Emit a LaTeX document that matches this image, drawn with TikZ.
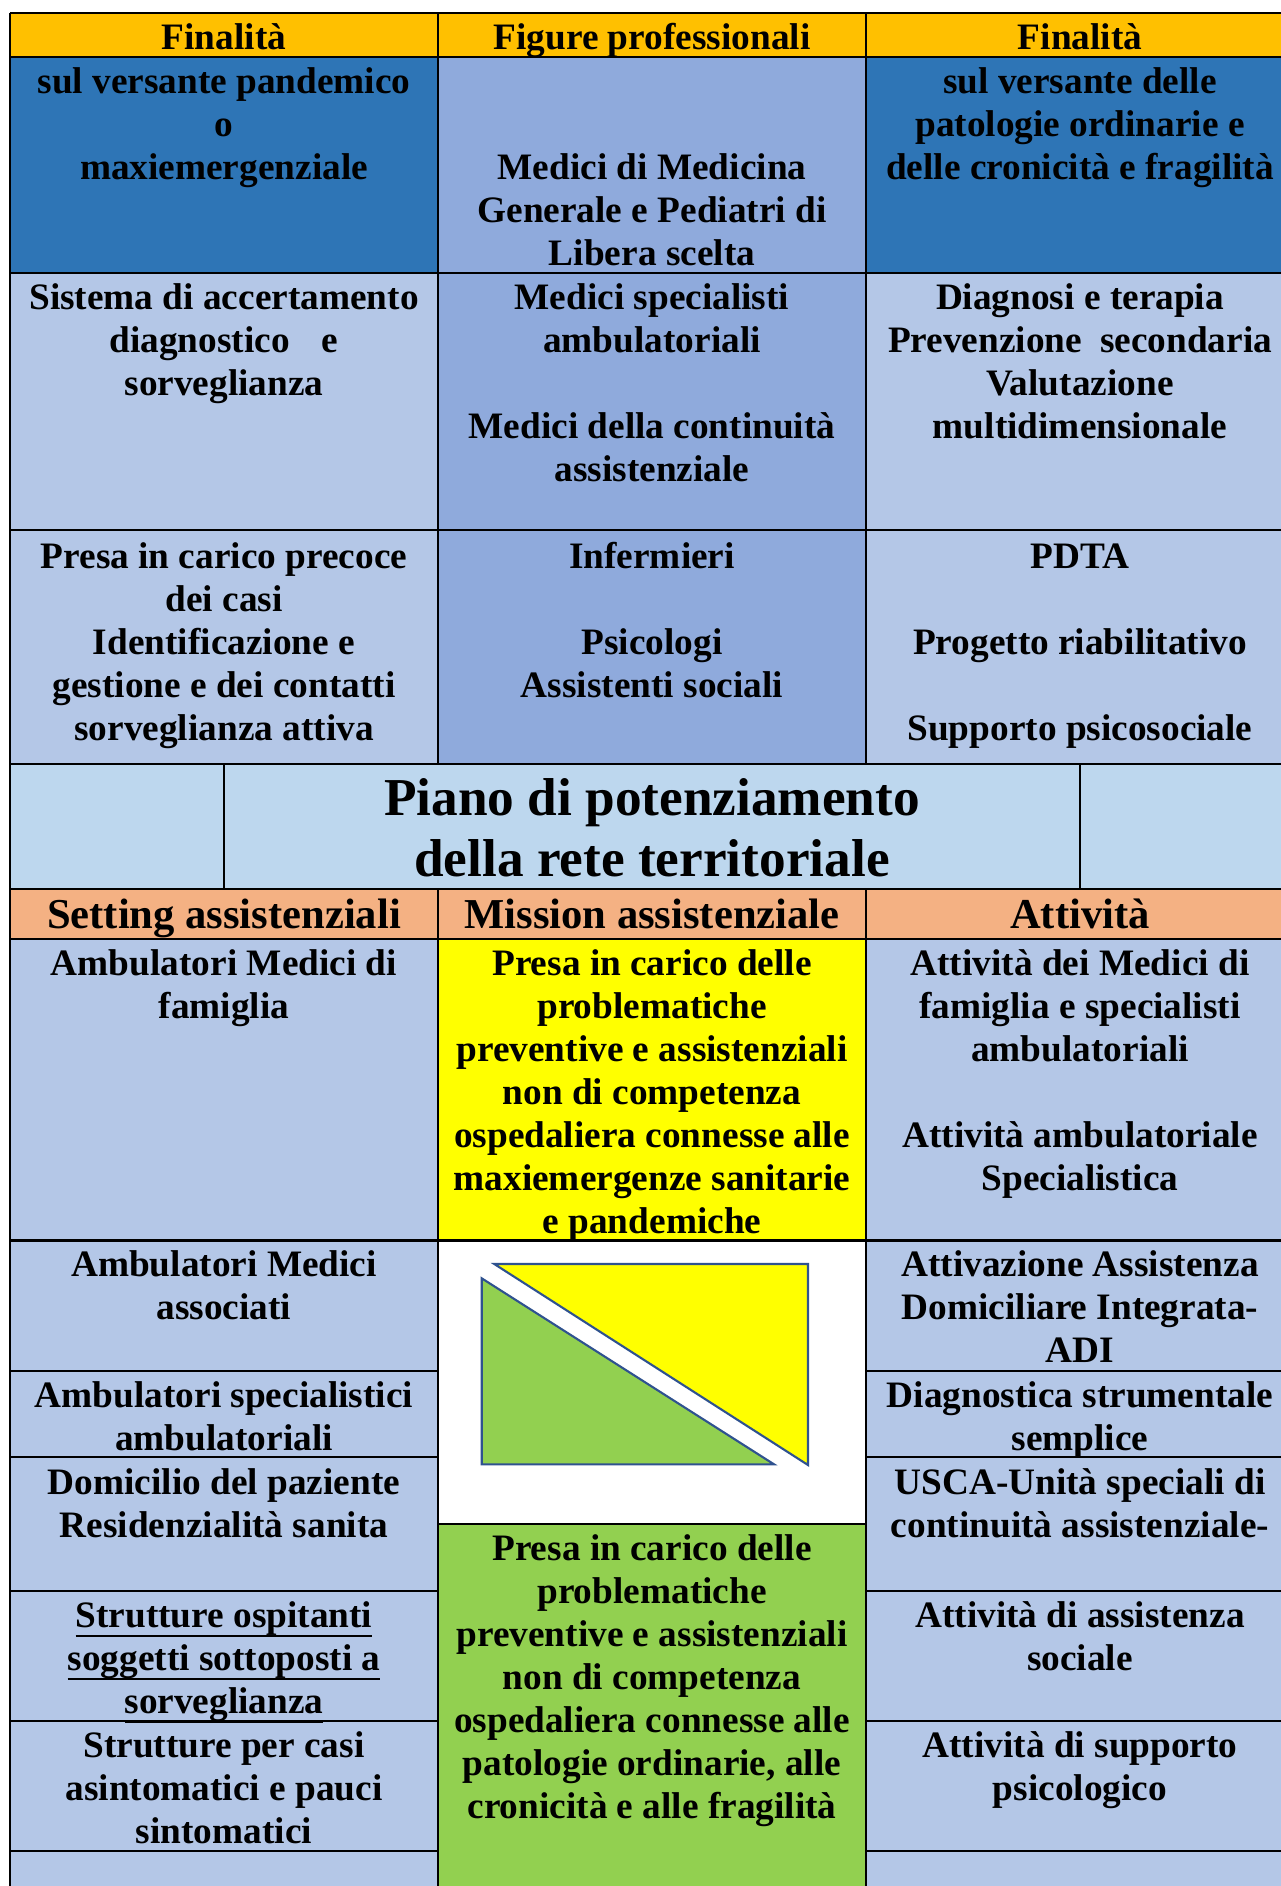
\documentclass[tikz,border=0pt]{standalone}
\usepackage{fontspec}
\setmainfont{Liberation Serif}
\definecolor{hdr}{HTML}{FFC000}
\definecolor{dkblue}{HTML}{2E75B6}
\definecolor{midblue}{HTML}{8FAADC}
\definecolor{ltblue}{HTML}{B4C7E7}
\definecolor{ttlblue}{HTML}{BDD7EE}
\definecolor{orng}{HTML}{F4B183}
\definecolor{ylw}{HTML}{FFFF00}
\definecolor{grn}{HTML}{92D050}
\definecolor{tri}{HTML}{2F528F}
\newcommand{\myul}[1]{\setbox0\hbox{#1}\rlap{\raisebox{-9.6pt}{\rule{\wd0}{2.2pt}}}\box0}
\tikzset{
  gridline/.style={draw=black,line width=2.5pt},
  txt/.style={anchor=north,inner sep=0pt,align=center,font=\fontsize{37.3}{43}\selectfont\bfseries},
  hdrtxt/.style={anchor=base,inner sep=0pt,font=\fontsize{37.3}{43}\selectfont\bfseries},
  orgtxt/.style={anchor=base,inner sep=0pt,font=\fontsize{42.6}{49}\selectfont\bfseries},
  ttltxt/.style={anchor=north,inner sep=0pt,align=center,font=\fontsize{53.3}{61}\selectfont\bfseries},
  trishape/.style={draw=tri,line width=2.1pt,line join=miter},
}
\begin{document}
\begin{tikzpicture}[x=1pt,y=-1pt]
\useasboundingbox (0,0) rectangle (1281,1886);
\fill[white] (0,0) rectangle (1281,1886);
\begin{scope}
\clip (0,0) rectangle (1281,1886);
% ---- fills
\fill[hdr] (9.8,13) rectangle (1294,57);
\fill[dkblue] (9.8,57) rectangle (438,273);
\fill[midblue] (438,57) rectangle (866,764);
\fill[dkblue] (866,57) rectangle (1294,273);
\fill[ltblue] (9.8,273) rectangle (438,764);
\fill[ltblue] (866,273) rectangle (1294,764);
\fill[ttlblue] (9.8,764) rectangle (1294,889);
\fill[orng] (9.8,889) rectangle (1294,939);
\fill[ltblue] (9.8,939) rectangle (438,1900);
\fill[ltblue] (866,939) rectangle (1294,1900);
\fill[ylw] (438,939) rectangle (866,1240.5);
\fill[white] (438,1240.5) rectangle (866,1524);
\fill[grn] (438,1524) rectangle (866,1900);
% ---- grid lines
\draw[gridline] (9.8,13) -- (9.8,1900);
\draw[gridline] (438,13) -- (438,764);
\draw[gridline] (866,13) -- (866,764);
\draw[gridline] (438,889) -- (438,1900);
\draw[gridline] (866,889) -- (866,1900);
\draw[gridline] (224,764) -- (224,889);
\draw[gridline] (1080,764) -- (1080,889);
\foreach \yy in {13,57,273,530,764,889,939,1240.5}
  \draw[gridline] (9.8,\yy) -- (1294,\yy);
\foreach \yy in {1371,1457,1591,1721,1851} {
  \draw[gridline] (9.8,\yy) -- (438,\yy);
  \draw[gridline] (866,\yy) -- (1294,\yy);
}
\draw[gridline] (438,1524) -- (866,1524);
% ---- triangles
\filldraw[trishape,fill=ylw] (494.3,1264) -- (808,1264) -- (808,1465) -- cycle;
\filldraw[trishape,fill=grn] (481.7,1278.3) -- (481.7,1464.3) -- (774,1464.3) -- cycle;
\end{scope}
% ---- header texts
\node[hdrtxt] (h1) at (224,49.3) {Finalità};
\node[hdrtxt] (h2) at (652,49.3) {Figure professionali};
\node[hdrtxt] (h3) at (1080,49.3) {Finalità};
% ---- row 1
\node[txt] (r1a) at (224,62.9) {\strut sul versante pandemico\\o\\maxiemergenziale};
\node[txt] (r1b) at (652,148.9) {\strut Medici di Medicina\\Generale e Pediatri di\\Libera scelta};
\node[txt] (r1c) at (1080,62.9) {\strut sul versante delle\\patologie ordinarie e\\delle cronicità e fragilità};
% ---- row 2
\node[txt] (r2a) at (224,279) {\strut Sistema di accertamento\\diagnostico\hspace{32pt}e\\sorveglianza};
\node[txt] (r2b) at (652,279) {\strut Medici specialisti\\ambulatoriali\\[43pt]Medici della continuità\\assistenziale};
\node[txt] (r2c) at (1080,279) {\strut Diagnosi e terapia\\Prevenzione\hspace{18pt}secondaria\\Valutazione\\multidimensionale};
% ---- row 3
\node[txt] (r3a) at (224,538) {\strut Presa in carico precoce\\dei casi\\Identificazione e\\gestione e dei contatti\\sorveglianza attiva};
\node[txt] (r3b) at (652,538) {\strut Infermieri\\[43pt]Psicologi\\Assistenti sociali};
\node[txt] (r3c) at (1080,538) {\strut PDTA\\[43pt]Progetto riabilitativo\\[43pt]Supporto psicosociale};
% ---- title
\node[ttltxt] (title) at (652,772.3) {\strut Piano di potenziamento\\della rete territoriale};
% ---- orange header
\node[orgtxt] (o1) at (224,928) {Setting assistenziali};
\node[orgtxt] (o2) at (652,928) {Mission assistenziale};
\node[orgtxt] (o3) at (1080,928) {Attività};
% ---- row 4
\node[txt] (r4a) at (224,944.9) {\strut Ambulatori Medici di\\famiglia};
\node[txt] (r4b) at (652,944.9) {\strut Presa in carico delle\\problematiche\\preventive e assistenziali\\non di competenza\\ospedaliera connesse alle\\maxiemergenze sanitarie\\e pandemiche};
\node[txt] (r4c) at (1080,944.9) {\strut Attività dei Medici di\\famiglia e specialisti\\ambulatoriali\\[43pt]Attività ambulatoriale\\Specialistica};
% ---- row 5
\node[txt] (r5a) at (224,1246.4) {\strut Ambulatori Medici\\associati};
\node[txt] (r5c) at (1080,1246.4) {\strut Attivazione Assistenza\\Domiciliare Integrata-\\ADI};
% ---- row 6
\node[txt] (r6a) at (224,1377.4) {\strut Ambulatori specialistici\\ambulatoriali};
\node[txt] (r6c) at (1080,1377.4) {\strut Diagnostica strumentale\\semplice};
% ---- row 7
\node[txt] (r7a) at (224,1463.9) {\strut Domicilio del paziente\\Residenzialità sanita};
\node[txt] (r7c) at (1080,1463.9) {\strut USCA-Unità speciali di\\continuità assistenziale-};
% ---- row 8
\node[txt] (r8a) at (224,1596.9) {\strut\myul{Strutture ospitanti}\\\myul{soggetti sottoposti a}\\\myul{sorveglianza}};
\node[txt] (r8c) at (1080,1596.9) {\strut Attività di assistenza\\sociale};
% ---- row 9
\node[txt] (r9a) at (224,1726.9) {\strut Strutture per casi\\asintomatici e pauci\\sintomatici};
\node[txt] (r9c) at (1080,1726.9) {\strut Attività di supporto\\psicologico};
% ---- green
\node[txt] (gm) at (652,1530.4) {\strut Presa in carico delle\\problematiche\\preventive e assistenziali\\non di competenza\\ospedaliera connesse alle\\patologie ordinarie, alle\\cronicità e alle fragilità};
\end{tikzpicture}
\end{document}
